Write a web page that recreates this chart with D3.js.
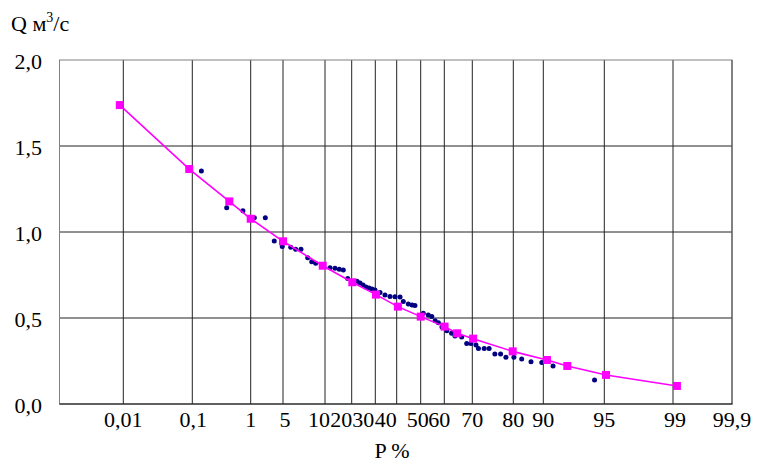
<!DOCTYPE html>
<html>
<head>
<meta charset="utf-8">
<script src="https://cdn.jsdelivr.net/npm/d3@7"></script>
<style>
  html, body { margin: 0; padding: 0; background: #fff; }
</style>
</head>
<body>
<svg id="chart" width="759" height="464"></svg>
<script>
// ---- data ----
const xTickValues = [0.01, 0.1, 1, 5, 10, 20, 30, 40, 50, 60, 70, 80, 90, 95, 99, 99.9];
const xTickLabels = ["0,01", "0,1", "1", "5", "10", "20", "30", "40", "50", "60", "70", "80", "90", "95", "99", "99,9"];
const yTickValues = [0, 0.5, 1.0, 1.5, 2.0];
const yTickLabels = ["0,0", "0,5", "1,0", "1,5", "2,0"];

// fitted curve (magenta squares)
const curveP = [0.0095, 0.096, 0.67, 1, 5, 9.73, 20.25, 30.3, 40.5, 50, 60.1, 64.6, 70.2, 79.85, 90.3, 91.97, 95.1, 99.06];
const curveQ = [1.738, 1.366, 1.178, 1.077, 0.946, 0.804, 0.708, 0.636, 0.566, 0.508, 0.45, 0.411, 0.380, 0.306, 0.256, 0.221, 0.169, 0.105];

// observed values (navy dots)
const obsP = [0.24, 0.63, 0.88, 1.45, 2.81, 3.92, 4.91, 5.92, 6.51, 7.14, 7.94, 8.42, 8.89,
  11.87, 13.75, 15.36, 16.85, 18.5, 22.25, 23.52, 24.79, 26.06, 27.33, 28.6, 29.87,
  32.2, 34.53, 36.87, 39.2, 41.4, 42.75, 44.83, 46.4, 47.6, 51.1, 53.2, 54.7, 56.1, 57.5, 59.0,
  60.9, 62.6, 63.8, 66.2, 68.0, 69.5, 70.9, 71.5, 72.9, 74.1, 75.5, 76.9, 78.2,
  80.2, 82.8, 85.9, 89.5, 90.8, 94.2];
const obsQ = [1.355, 1.141, 1.124, 1.083, 1.083, 0.948, 0.915, 0.911, 0.899, 0.899, 0.851, 0.827, 0.818,
  0.792, 0.789, 0.783, 0.779, 0.73, 0.713, 0.703, 0.692, 0.680, 0.674, 0.669, 0.663,
  0.648, 0.634, 0.625, 0.624, 0.622, 0.596, 0.581, 0.576, 0.573, 0.527, 0.517, 0.508, 0.484, 0.473, 0.448,
  0.426, 0.411, 0.395, 0.390, 0.352, 0.352, 0.343, 0.323, 0.323, 0.323, 0.291, 0.291, 0.272,
  0.272, 0.262, 0.246, 0.241, 0.221, 0.140];

// ---- layout ----
const FONT = '"Liberation Serif"';
const FS = 22;
const svg = d3.select("#chart");
const L = 60, R = 732, T = 60, B = 404;
const W = R - L;

// probability-paper positions of the grid (px from plot left)
const gridPx = [63.3, 132.3, 190.7, 223, 265, 291.7, 315.3, 336.7, 360.7, 384.3, 412.3, 453.3, 483.3, 544.3, 613, 672];
const labelShift = [0, 1, 0, 2, -6, -10.5, -12, -11, -3, -5, 0, 0, 0, 0, 2, 0];

const x = d3.scaleLinear()
  .domain([0.001].concat(xTickValues))
  .range([L].concat(gridPx.map(p => L + p)));
const y = d3.scaleLinear().domain([0, 2]).range([B, T]);

const g = svg.append("g");

// horizontal gridlines
g.selectAll("line.hg").data(yTickValues.filter(v => v > 0 && v < 2)).enter()
  .append("line").attr("class", "hg")
  .attr("x1", L).attr("x2", R)
  .attr("y1", d => y(d)).attr("y2", d => y(d))
  .attr("stroke", "#222").attr("stroke-width", 1);

// vertical gridlines
g.selectAll("line.vg").data(xTickValues.slice(0, -1)).enter()
  .append("line").attr("class", "vg")
  .attr("x1", d => x(d)).attr("x2", d => x(d))
  .attr("y1", T).attr("y2", B)
  .attr("stroke", "#222").attr("stroke-width", 1);

// plot border
g.append("rect")
  .attr("x", L - 0.5).attr("y", T).attr("width", W + 0.5).attr("height", B - T)
  .attr("fill", "none").attr("stroke", "#808080").attr("stroke-width", 1);
g.append("line")
  .attr("x1", R).attr("x2", R).attr("y1", T).attr("y2", B)
  .attr("stroke", "#444").attr("stroke-width", 1);
// x axis line
g.append("line")
  .attr("x1", L - 0.5).attr("x2", R + 0.5).attr("y1", B).attr("y2", B)
  .attr("stroke", "#000").attr("stroke-width", 1);

// y tick labels
g.selectAll("text.yl").data(yTickValues).enter()
  .append("text").attr("class", "yl")
  .attr("x", 42).attr("y", d => y(d) + 8.5)
  .attr("text-anchor", "end").attr("font-size", FS).style("font-family", FONT)
  .text((d, i) => yTickLabels[i]);

// x tick labels
g.selectAll("text.xl").data(xTickValues).enter()
  .append("text").attr("class", "xl")
  .attr("x", (d, i) => x(d) + labelShift[i]).attr("y", B + 23)
  .attr("text-anchor", "middle").attr("font-size", FS).style("font-family", FONT)
  .text((d, i) => xTickLabels[i]);

// axis titles
const yt = g.append("text").attr("x", 11).attr("y", 31).attr("font-size", FS).style("font-family", FONT);
yt.append("tspan").text("Q м");
yt.append("tspan").attr("font-size", 14).attr("dy", -9).text("3");
yt.append("tspan").attr("dy", 9).text("/с");

g.append("text").attr("x", 392).attr("y", 458).style("font-family", FONT)
  .attr("text-anchor", "middle").attr("font-size", FS).text("P %");

// observed dots
const obs = obsP.map((p, i) => ({ p, q: obsQ[i] }));
g.selectAll("circle.obs").data(obs).enter()
  .append("circle").attr("class", "obs")
  .attr("cx", d => x(d.p)).attr("cy", d => y(d.q))
  .attr("r", 2.5).attr("fill", "#000080");

// fitted curve
const cur = curveP.map((p, i) => ({ p, q: curveQ[i] }));
g.append("path").datum(cur)
  .attr("d", d3.line().x(d => x(d.p)).y(d => y(d.q)))
  .attr("fill", "none").attr("stroke", "#ff00ff").attr("stroke-width", 1.6);

g.selectAll("rect.sq").data(cur).enter()
  .append("rect").attr("class", "sq")
  .attr("x", d => x(d.p) - 4).attr("y", d => y(d.q) - 4)
  .attr("width", 8).attr("height", 8)
  .attr("fill", "#ff00ff");
</script>
</body>
</html>
